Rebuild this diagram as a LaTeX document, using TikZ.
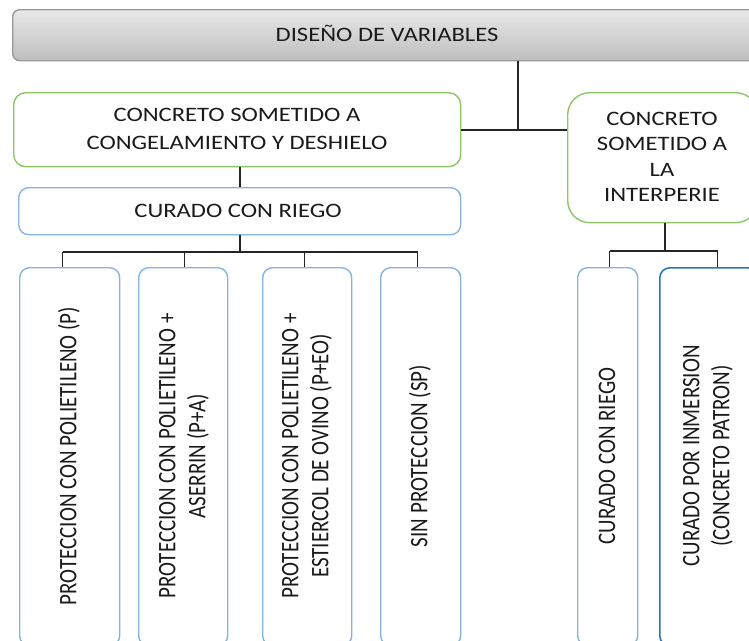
\documentclass[tikz,border=0pt]{standalone}
\usepackage{fontspec}
\setmainfont[FakeStretch=1.2]{Carlito}
\newfontfamily\vfont{Carlito}
\usetikzlibrary{calc}
\definecolor{gborder}{HTML}{8CC665}
\definecolor{bborder}{HTML}{86B3E0}
\definecolor{bdark}{HTML}{2E75B6}
\definecolor{graytop}{HTML}{E8E8E8}
\definecolor{graybot}{HTML}{BEBEBE}
\definecolor{txt}{HTML}{1A1A1A}
\begin{document}
\begin{tikzpicture}[x=1pt,y=-1pt,
  box/.style={draw, line width=1.4pt, inner sep=0pt, anchor=north west},
  graybox/.style={box, draw=gray!80, rounded corners=7pt, top color=graytop, bottom color=graybot},
  greenbox/.style={box, draw=gborder, fill=white},
  bluebox/.style={box, draw=bborder, fill=white, rounded corners=10pt},
  htext/.style={font=\fontsize{20.5}{28}\selectfont, text=txt, align=center},
  vtext/.style={font=\vfont\fontsize{21}{25}\selectfont, text=txt, align=center, xscale=1.2, rotate=90},
  conn/.style={draw=black!85, line width=1.3pt}]
\useasboundingbox (0,0) rectangle (749,640);
\clip (0,0) rectangle (749,640);
% boxes
\node[graybox, minimum width=748pt, minimum height=51pt] (top) at (12,9) {};
\node[htext] at (387,33) {DISEÑO DE VARIABLES};
\node[greenbox, rounded corners=12pt, minimum width=447pt, minimum height=74pt] (gl) at (13,92) {};
\node[htext] at (237,129) {CONCRETO SOMETIDO A\\CONGELAMIENTO Y DESHIELO};
\node[greenbox, rounded corners=22pt, minimum width=190pt, minimum height=130pt] (gr) at (567,92) {};
\node[htext, font=\fontsize{20.5}{25.5}\selectfont] at (662,157) {CONCRETO\\SOMETIDO A\\LA\\INTERPERIE};
\node[bluebox, minimum width=442pt, minimum height=47pt] (cr) at (18,187) {};
\node[htext] at (238,211) {CURADO CON RIEGO};
\node[bluebox, minimum width=100pt, minimum height=378pt] (b1) at (19,267) {};
\node[bluebox, minimum width=89pt, minimum height=378pt] (b2) at (138,267) {};
\node[bluebox, minimum width=89pt, minimum height=378pt] (b3) at (262,267) {};
\node[bluebox, minimum width=80pt, minimum height=378pt] (b4) at (380,267) {};
\node[bluebox, minimum width=60pt, minimum height=378pt] (b5) at (577,267) {};
\node[bluebox, draw=bdark, line width=1.6pt, minimum width=98pt, minimum height=378pt] (b6) at (659,267) {};
\node[vtext] at (69,456) {PROTECCION CON POLIETILENO (P)};
\node[vtext] at (184,456) {PROTECCION CON POLIETILENO +\\ASERRIN (P+A)};
\node[vtext] at (307,456) {PROTECCION CON POLIETILENO +\\ESTIERCOL DE OVINO (P+EO)};
\node[vtext] at (420,456) {SIN PROTECCION (SP)};
\node[vtext] at (607,456) {CURADO CON RIEGO};
\node[vtext] at (708,456) {CURADO POR INMERSION\\(CONCRETO PATRON)};
% connectors
\coordinate (jt) at (518,130);
\draw[conn] (top.south -| jt) -- (jt);
\draw[conn] (gl.east |- jt) -- (gr.west |- jt);
\draw[conn] (gl.south -| 240,0) -- (cr.north -| 240,0);
\coordinate (jc) at (240,252);
\draw[conn] (cr.south -| jc) -- (jc);
\draw[conn] ([xshift=-7pt]b1.north |- jc) -- ([xshift=-3pt]b4.north |- jc);
\draw[conn] ([xshift=-7pt]b1.north |- jc) -- ([xshift=-7pt]b1.north);
\draw[conn] ([xshift=1pt]b2.north |- jc) -- ([xshift=1pt]b2.north);
\draw[conn] ([xshift=-3pt]b3.north |- jc) -- ([xshift=-3pt]b3.north);
\draw[conn] ([xshift=-3pt]b4.north |- jc) -- ([xshift=-3pt]b4.north);
\coordinate (jr) at (665,251);
\draw[conn] (gr.south -| jr) -- (jr);
\draw[conn] ([xshift=2pt]b5.north |- jr) -- ([xshift=9pt]b6.north |- jr);
\draw[conn] ([xshift=2pt]b5.north |- jr) -- ([xshift=2pt]b5.north);
\draw[conn] ([xshift=9pt]b6.north |- jr) -- ([xshift=9pt]b6.north);
\end{tikzpicture}
\end{document}
